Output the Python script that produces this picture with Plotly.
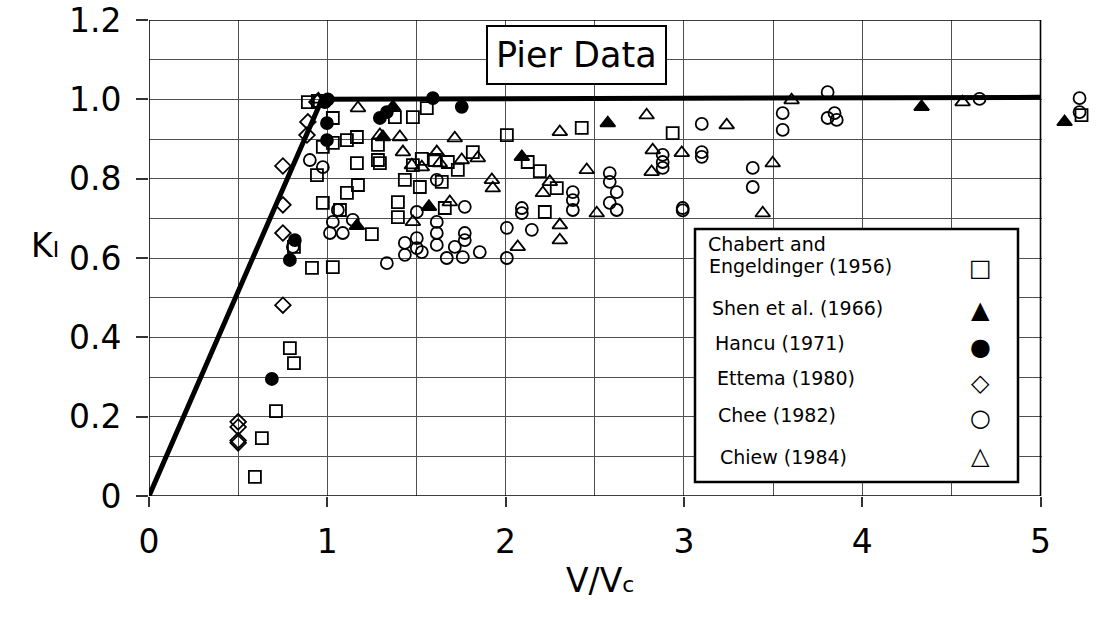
import plotly.graph_objects as go

# ---------------- data ----------------
chabert_x = [0.594, 0.633, 0.712, 0.790, 0.813, 0.813, 0.914, 1.031, 0.891, 0.947,
             1.031, 1.110, 1.031, 0.975, 0.942, 1.166, 1.110, 0.975, 1.071, 1.166,
             1.172, 1.250, 1.284, 1.284, 1.379, 1.480, 1.558, 1.295, 1.435, 1.396,
             1.396, 1.519, 1.480, 1.530, 1.603, 1.676, 1.732, 1.816, 1.642, 1.659,
             2.007, 2.427, 2.124, 2.192, 2.287, 2.220, 2.937, 5.230]
chabert_y = [0.048, 0.146, 0.214, 0.373, 0.335, 0.628, 0.575, 0.577, 0.993, 0.996,
             0.953, 0.897, 0.890, 0.880, 0.809, 0.839, 0.764, 0.739, 0.721, 0.905,
             0.784, 0.660, 0.885, 0.847, 0.955, 0.955, 0.978, 0.839, 0.797, 0.741,
             0.703, 0.779, 0.834, 0.850, 0.847, 0.842, 0.822, 0.867, 0.792, 0.726,
             0.910, 0.928, 0.842, 0.819, 0.776, 0.716, 0.915, 0.960]

shen_x = [1.312, 1.166, 1.570, 2.091, 2.573, 4.333, 5.135, 1.368]
shen_y = [0.905, 0.681, 0.729, 0.855, 0.940, 0.981, 0.943, 0.981]

hancu_x = [0.689, 0.790, 0.818, 0.998, 0.998, 0.987, 1.003, 1.295, 1.334, 1.592, 1.754]
hancu_y = [0.295, 0.595, 0.645, 0.897, 0.940, 0.993, 1.000, 0.953, 0.968, 1.003, 0.981]

ettema_x = [0.50, 0.50, 0.50, 0.50, 0.751, 0.751, 0.751, 0.751, 0.886, 0.891, 0.942]
ettema_y = [0.134, 0.140, 0.174, 0.187, 0.481, 0.663, 0.734, 0.832, 0.910, 0.943, 0.993]

chee_x = [0.902, 0.975, 0.807, 1.015, 1.087, 1.031, 1.059, 1.143, 1.334, 1.435,
          1.435, 1.502, 1.502, 1.502, 1.530, 1.614, 1.614, 1.614, 1.670, 1.715,
          1.760, 1.771, 1.771, 1.855, 1.771, 1.614, 2.007, 2.007, 2.091, 2.091,
          2.147, 2.377, 2.377, 2.377, 2.584, 2.584, 2.623, 2.584, 2.623, 2.881,
          2.881, 2.881, 2.993, 2.993, 3.100, 3.100, 3.100, 3.386, 3.386, 3.554,
          3.554, 3.806, 3.806, 3.845, 3.857, 4.658, 5.219, 5.219]
chee_y = [0.847, 0.829, 0.628, 0.663, 0.663, 0.691, 0.721, 0.696, 0.587, 0.638,
          0.608, 0.716, 0.650, 0.625, 0.615, 0.691, 0.663, 0.633, 0.600, 0.628,
          0.602, 0.663, 0.645, 0.615, 0.729, 0.797, 0.676, 0.600, 0.726, 0.713,
          0.671, 0.766, 0.746, 0.721, 0.814, 0.792, 0.766, 0.739, 0.721, 0.860,
          0.842, 0.827, 0.726, 0.720, 0.938, 0.867, 0.855, 0.827, 0.779, 0.965,
          0.923, 1.018, 0.953, 0.965, 0.948, 1.001, 1.003, 0.968]

chiew_x = [0.950, 1.172, 1.295, 1.407, 1.424, 1.715, 1.614, 1.631, 1.754, 1.844,
           1.474, 1.530, 1.923, 1.928, 1.480, 1.687, 2.068, 2.209, 2.248, 2.304,
           2.304, 2.304, 2.455, 2.511, 2.791, 2.825, 2.819, 2.988, 3.240, 3.442,
           3.498, 3.604, 4.563]
chiew_y = [1.000, 0.978, 0.910, 0.905, 0.867, 0.902, 0.867, 0.839, 0.847, 0.852,
           0.834, 0.829, 0.797, 0.776, 0.691, 0.741, 0.628, 0.764, 0.792, 0.683,
           0.645, 0.918, 0.822, 0.713, 0.960, 0.872, 0.817, 0.865, 0.935, 0.713,
           0.839, 0.998, 0.993]

envelope_x = [0.0, 0.97, 5.0]
envelope_y = [0.0, 1.0, 1.005]

x_tickvals = [0, 1, 2, 3, 4, 5]
x_ticktext = ["0", "1", "2", "3", "4", "5"]
y_tickvals = [0, 0.2, 0.4, 0.6, 0.8, 1.0, 1.2]
y_ticktext = ["0", "0.2", "0.4", "0.6", "0.8", "1.0", "1.2"]

legend_lines = ["Chabert and", "Engeldinger (1956)", "Shen et al. (1966)", "Hancu (1971)",
                "Ettema (1980)", "Chee (1982)", "Chiew (1984)"]
legend_glyphs = ["\u25a1", "\u25b2", "\u25cf", "\u25c7", "\u25cb", "\u25b3"]

# ---------------- figure ----------------
W, H = 1096, 622
L, R, T, B = 149, 2, 20, 126
XMAX_FRAME = 5.0
XMAX_VIEW = 5.3          # room for the data points drawn past the frame
FONT = "DejaVu Sans"
PW = W - L - R
PH = H - B - T


def px2x(px):
    return (px - L) / PW * XMAX_VIEW


def px2y(py):
    return (H - B - py) / PH * 1.2


fig = go.Figure()

fig.add_trace(go.Scatter(x=envelope_x, y=envelope_y, mode="lines",
                         line=dict(color="black", width=5), showlegend=False,
                         cliponaxis=False, hoverinfo="skip"))

mk_line = dict(color="black", width=1.8)
series = [
    (chabert_x, chabert_y, "square-open", 12),
    (shen_x, shen_y, "triangle-up", 13),
    (hancu_x, hancu_y, "circle", 12),
    (ettema_x, ettema_y, "diamond-open", 12),
    (chee_x, chee_y, "circle-open", 12),
    (chiew_x, chiew_y, "triangle-up-open", 13),
]
for sx, sy, sym, size in series:
    fig.add_trace(go.Scatter(
        x=sx, y=sy, mode="markers", showlegend=False, cliponaxis=False,
        marker=dict(symbol=sym, size=size, color="black", line=mk_line)))

# white cover for gridlines right of the frame (markers stay on top)
fig.add_shape(type="rect", xref="x", yref="y", x0=XMAX_FRAME + 0.008, x1=XMAX_VIEW,
              y0=-0.001, y1=1.21, line=dict(width=0), fillcolor="white", layer="between")
# plot frame
fig.add_shape(type="rect", xref="x", yref="y", x0=0, x1=XMAX_FRAME, y0=0, y1=1.2,
              line=dict(color="black", width=1.6), layer="above")

# "Pier Data" label box
fig.add_annotation(x=px2x(576), y=px2y(55), xref="x", yref="y", text="Pier Data",
                   showarrow=False, font=dict(family=FONT, size=35, color="black"),
                   bgcolor="white", bordercolor="black", borderwidth=2, borderpad=8)

# legend box (drawn manually so the symbols sit on the right)
fig.add_shape(type="rect", xref="x", yref="y",
              x0=px2x(695), x1=px2x(1018), y0=px2y(482), y1=px2y(229),
              line=dict(color="black", width=2.5), fillcolor="white", layer="above")

label_pos = [(706, 244), (707, 266), (710, 308), (713, 343), (715, 378), (716, 415), (718, 457)]
glyph_pos = [(980, 268), (980, 310), (980, 347), (980, 383), (980, 418), (980, 456)]
for lab, (lx, ly) in zip(legend_lines, label_pos):
    fig.add_annotation(x=px2x(lx), y=px2y(ly), xref="x", yref="y", text=lab,
                       showarrow=False, xanchor="left", yanchor="middle", align="left",
                       font=dict(family=FONT, size=19, color="black"))
for g, (gx, gy) in zip(legend_glyphs, glyph_pos):
    fig.add_annotation(x=px2x(gx), y=px2y(gy), xref="x", yref="y", text=g,
                       showarrow=False, xanchor="center", yanchor="middle",
                       font=dict(family=FONT, size=24, color="black"))

# axis titles
fig.add_annotation(x=(600 - L) / PW, y=-(580 - (H - B)) / PH,
                   xref="paper", yref="paper",
                   text="V/V<span style='font-size:22px'>c</span>",
                   showarrow=False, xanchor="center", yanchor="middle",
                   font=dict(family=FONT, size=33, color="black"))
fig.add_annotation(x=(45 - L) / PW, y=(H - B - 245) / PH,
                   xref="paper", yref="paper",
                   text="K<span style='font-size:22px'>I</span>",
                   showarrow=False, xanchor="center", yanchor="middle",
                   font=dict(family=FONT, size=33, color="black"))

grid_c = "#505050"
fig.update_xaxes(range=[0, XMAX_VIEW], tickvals=x_tickvals, ticktext=x_ticktext,
                 ticks="outside", ticklen=10, tickwidth=1.5, tickcolor="#333",
                 ticklabelstandoff=6,
                 showgrid=True, gridcolor=grid_c, gridwidth=1.2,
                 minor=dict(dtick=0.5, showgrid=True, gridcolor=grid_c, gridwidth=1.2, ticks=""),
                 showline=False, zeroline=False,
                 tickfont=dict(family=FONT, size=33, color="black"))
fig.update_yaxes(range=[0, 1.2], tickvals=y_tickvals, ticktext=y_ticktext,
                 ticks="outside", ticklen=12, tickwidth=1.5, tickcolor="#333",
                 ticklabelstandoff=8,
                 showgrid=True, gridcolor=grid_c, gridwidth=1.2,
                 minor=dict(dtick=0.1, showgrid=True, gridcolor=grid_c, gridwidth=1.2, ticks=""),
                 showline=False, zeroline=False,
                 tickfont=dict(family=FONT, size=33, color="black"))

fig.update_layout(width=W, height=H, margin=dict(l=L, r=R, t=T, b=B, pad=0),
                  paper_bgcolor="white", plot_bgcolor="white",
                  font=dict(family=FONT, color="black"), showlegend=False)

fig.write_html("out.html")
